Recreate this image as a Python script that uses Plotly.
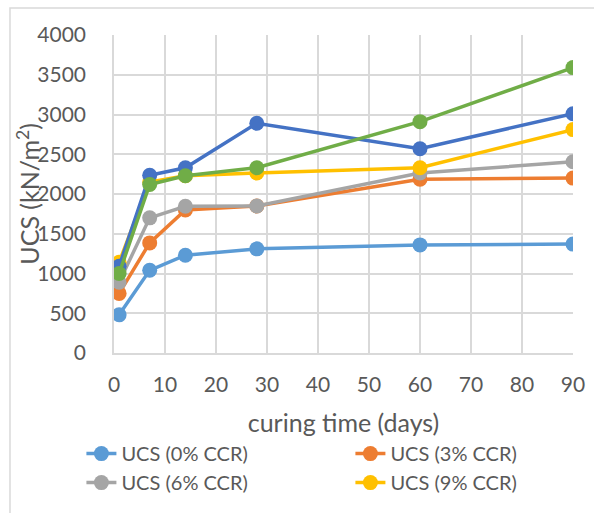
import plotly.graph_objects as go

# Curing times (days)
days = [1, 7, 14, 28, 60, 90]

# UCS values (kN/m^2) per CCR content
ucs_0 = [480, 1040, 1230, 1310, 1360, 1370]
ucs_3 = [750, 1385, 1800, 1850, 2185, 2200]
ucs_6 = [890, 1700, 1845, 1850, 2265, 2405]
ucs_9 = [1140, 2150, 2230, 2265, 2330, 2810]
ucs_a = [1090, 2235, 2330, 2890, 2570, 3010]
ucs_b = [1000, 2120, 2230, 2330, 2910, 3590]

series = [
    ("UCS (0% CCR)", ucs_0, "#5B9BD5", True),
    ("UCS (3% CCR)", ucs_3, "#ED7D31", True),
    ("UCS (6% CCR)", ucs_6, "#A5A5A5", True),
    ("UCS (9% CCR)", ucs_9, "#FFC000", True),
    ("UCS (12% CCR)", ucs_a, "#4472C4", False),
    ("UCS (15% CCR)", ucs_b, "#70AD47", False),
]

font_family = "Lato, 'Open Sans', sans-serif"
grey_text = "#595959"
grid = "#D9D9D9"

fig = go.Figure()
for name, vals, color, show in series:
    fig.add_trace(go.Scatter(
        x=days, y=vals, name=name, mode="lines+markers",
        line=dict(color=color, width=3.5),
        marker=dict(color=color, size=15),
        showlegend=show,
    ))

fig.update_layout(
    width=594, height=513,
    margin=dict(l=114, r=21, t=35, b=160, autoexpand=False),
    paper_bgcolor="white", plot_bgcolor="white",
    font=dict(family=font_family, color=grey_text, size=21),
    showlegend=True,
    legend=dict(
        orientation="h", x=-0.071, xanchor="left", y=-0.255, yanchor="top",
        entrywidth=224, font=dict(size=20, color=grey_text),
        tracegroupgap=0,
    ),
    xaxis=dict(
        range=[0, 90], dtick=10, tick0=0,
        showgrid=True, gridcolor=grid, gridwidth=1.5,
        showline=True, linecolor=grid, linewidth=1.5,
        ticks="", zeroline=False, ticklabelstandoff=12,
        tickfont=dict(size=21, color=grey_text),
        title=dict(text="curing time (days)", font=dict(size=25, color=grey_text), standoff=20),
    ),
    yaxis=dict(
        range=[0, 4000], dtick=500, tick0=0,
        showgrid=True, gridcolor=grid, gridwidth=1.5,
        showline=True, linecolor=grid, linewidth=1.5,
        ticks="", zeroline=False, ticklabelstandoff=22,
        tickfont=dict(size=21, color=grey_text),
    ),
    annotations=[dict(
        text="UCS (kN/m<sup>2</sup>)", textangle=-90,
        xref="paper", yref="paper", x=-0.188, y=0.5,
        xanchor="center", yanchor="middle", showarrow=False,
        font=dict(size=25, color=grey_text),
    )],
    shapes=[dict(
        type="rect", xref="paper", yref="paper",
        x0=-0.2266, x1=1.2, y0=-0.8, y1=1.085,
        line=dict(color=grid, width=1.5), layer="below",
    )],
)

fig.write_html("out.html")
